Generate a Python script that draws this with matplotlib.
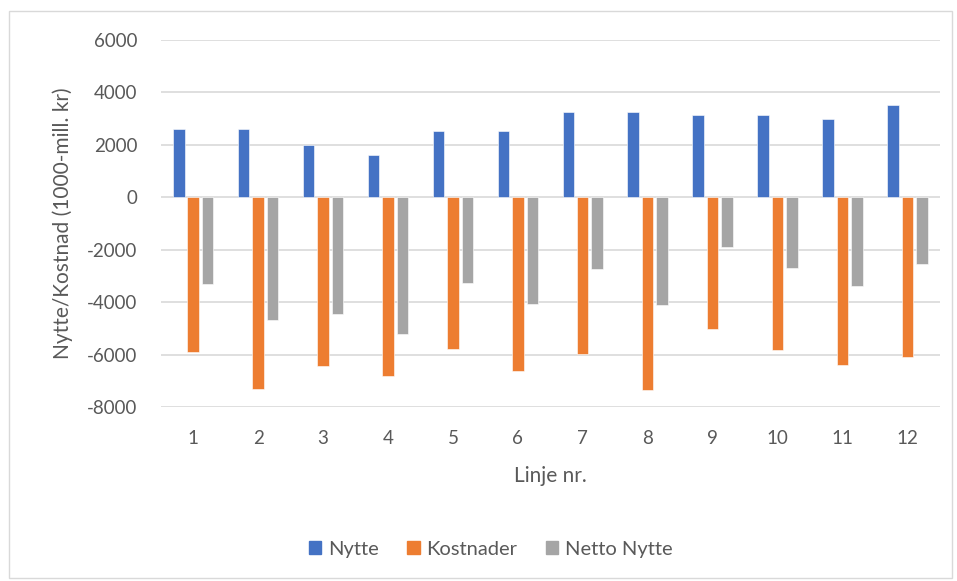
import matplotlib
matplotlib.use("Agg")
import matplotlib.pyplot as plt
import matplotlib.patches as mpatches
import numpy as np

# Nytte / kostnad per linje (1000-mill. kr)
linjer = ["1", "2", "3", "4", "5", "6", "7", "8", "9", "10", "11", "12"]
nytte = [2600, 2600, 2000, 1620, 2520, 2520, 3230, 3230, 3140, 3140, 2980, 3510]
kostnader = [-5900, -7300, -6440, -6820, -5770, -6600, -5990, -7330, -5010, -5830, -6380, -6080]
netto_nytte = [-3300, -4660, -4460, -5210, -3250, -4070, -2750, -4100, -1880, -2700, -3380, -2550]

series = [
    ("Nytte", nytte, "#4472C4"),
    ("Kostnader", kostnader, "#ED7D31"),
    ("Netto Nytte", netto_nytte, "#A5A5A5"),
]

TEXT = "#595959"
GRID = "#D9D9D9"
plt.rcParams["font.family"] = ["Lato", "DejaVu Sans"]
plt.rcParams["axes.unicode_minus"] = False

fig = plt.figure(figsize=(9.57, 5.81), dpi=100)
ax = fig.add_axes([0.168, 0.299, 0.814, 0.633])

x = np.arange(len(linjer))
step, width = 0.223, 0.177
for i, (name, vals, color) in enumerate(series):
    ax.bar(x + (i - 1) * step, vals, width=width, color=color, label=name,
           edgecolor="white", linewidth=0.4, zorder=3)

ax.set_xlim(-0.5, len(linjer) - 0.5)
ax.set_ylim(-8000, 6000)
ax.set_yticks(range(-8000, 6001, 2000))
ax.set_xticks(x)
ax.set_xticklabels(linjer)
ax.yaxis.grid(True, color=GRID, linewidth=1.2, zorder=0)
ax.tick_params(length=0, labelsize=13.5, colors=TEXT)
ax.tick_params(axis="y", pad=17)
ax.tick_params(axis="x", pad=16)
for s in ax.spines.values():
    s.set_visible(False)

ax.set_ylabel("Nytte/Kostnad (1000-mill. kr)", fontsize=15, color=TEXT, labelpad=10)
ax.set_xlabel("Linje nr.", fontsize=15, color=TEXT, labelpad=14)

handles = [mpatches.Patch(color=c, label=n) for n, _, c in series]
fig.legend(handles=handles, loc="center", bbox_to_anchor=(0.513, 0.055), ncol=3,
           frameon=False, fontsize=14.5, labelcolor=TEXT, handlelength=0.6,
           handleheight=0.6, handletextpad=0.35, columnspacing=1.4)

# chart frame
fig.patches.append(mpatches.Rectangle((9 / 957, 3 / 581), 943 / 957, 567 / 581,
                                      transform=fig.transFigure, fill=False,
                                      edgecolor=GRID, linewidth=1))

fig.savefig("out.png", dpi=100, facecolor="white")
